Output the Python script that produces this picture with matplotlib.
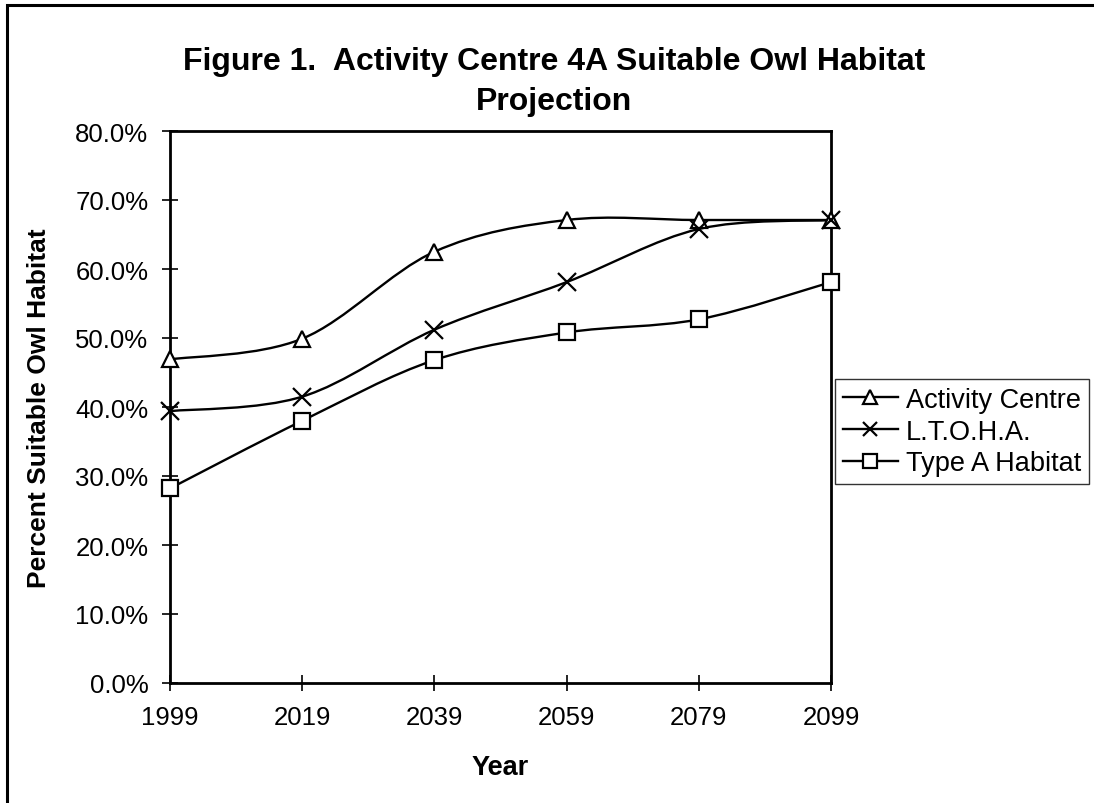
import matplotlib
matplotlib.use("Agg")
import matplotlib.pyplot as plt
from matplotlib.path import Path
from matplotlib.patches import PathPatch, Rectangle
from matplotlib.lines import Line2D
from matplotlib.ticker import FuncFormatter
import numpy as np

plt.rcParams['font.family'] = ['Liberation Sans', 'DejaVu Sans']

years = [1999, 2019, 2039, 2059, 2079, 2099]
activity_centre = [0.469, 0.499, 0.625, 0.671, 0.671, 0.671]
ltoha = [0.394, 0.415, 0.512, 0.581, 0.658, 0.671]
type_a = [0.282, 0.380, 0.468, 0.508, 0.527, 0.581]

series_names = ["Activity Centre", "L.T.O.H.A.", "Type A Habitat"]
y_ticks = [0.0, 0.1, 0.2, 0.3, 0.4, 0.5, 0.6, 0.7, 0.8]

W, H = 1094, 804
fig = plt.figure(figsize=(W / 100, H / 100), dpi=100)

# outer chart border
fig.patches.append(Rectangle((7 / W, -0.05), 1.2, 1 - 6 / H + 0.05, transform=fig.transFigure,
                             fill=False, edgecolor='black', linewidth=2.2, zorder=0))

L, R, T, B = 170, 831, 132, 684
ax = fig.add_axes([L / W, 1 - B / H, (R - L) / W, (B - T) / H])


def smooth_path(xs, ys):
    xs = np.asarray(xs, float)
    ys = np.asarray(ys, float)
    n = len(xs)
    verts = [(xs[0], ys[0])]
    codes = [Path.MOVETO]
    for i in range(n - 1):
        i0 = max(i - 1, 0)
        i3 = min(i + 2, n - 1)
        c1 = (xs[i] + (xs[i + 1] - xs[i0]) / 6, ys[i] + (ys[i + 1] - ys[i0]) / 6)
        c2 = (xs[i + 1] - (xs[i3] - xs[i]) / 6, ys[i + 1] - (ys[i3] - ys[i]) / 6)
        verts += [c1, c2, (xs[i + 1], ys[i + 1])]
        codes += [Path.CURVE4, Path.CURVE4, Path.CURVE4]
    return Path(verts, codes)


styles = [
    dict(marker='^', markersize=12, mew=1.6),
    dict(marker='x', markersize=13, mew=1.6),
    dict(marker='s', markersize=12, mew=1.6),
]
handles = []
for vals, name, st in zip([activity_centre, ltoha, type_a], series_names, styles):
    patch = PathPatch(smooth_path(years, vals), facecolor='none', edgecolor='black',
                      linewidth=1.7, zorder=3, clip_on=False)
    ax.add_patch(patch)
    ax.plot(years, vals, linestyle='none', color='black', markerfacecolor='white',
            zorder=4, clip_on=False, **st)
    handles.append(Line2D([], [], color='black', linewidth=1.7, markerfacecolor='white', **st))

ax.set_xlim(1999, 2099)
ax.set_ylim(0, 0.8)
ax.set_xticks(years)
ax.set_yticks(y_ticks)
ax.yaxis.set_major_formatter(FuncFormatter(lambda v, p: f"{v * 100:.1f}%"))
ax.tick_params(direction='inout', length=11, width=1.2, labelsize=18.5, color='black')
ax.tick_params(axis='y', pad=10)
ax.tick_params(axis='x', pad=10)
for sp in ax.spines.values():
    sp.set_linewidth(2)
    sp.set_color('black')

ax.set_xlabel("Year", fontsize=19.5, fontweight='bold', labelpad=18)
ax.yaxis.set_label_coords((39 - L) / (R - L), (B - 408) / (B - T))
ax.set_ylabel("Percent Suitable Owl Habitat", fontsize=19, fontweight='bold', va='center')

fig.text(554 / W, 1 - 82 / H, "Figure 1.  Activity Centre 4A Suitable Owl Habitat\nProjection",
         ha='center', va='center', fontsize=23, fontweight='bold', linespacing=1.42)

leg = fig.legend(handles, series_names, loc='upper left',
                 bbox_to_anchor=(835 / W, 1 - 380 / H), borderaxespad=0,
                 fontsize=19.5, frameon=True, fancybox=False, edgecolor='black',
                 handlelength=2.05, handletextpad=0.3, borderpad=0.28, labelspacing=0.22)
leg.get_frame().set_linewidth(1.0)
for h in leg.legend_handles:
    h.set_markersize(10)

fig.savefig("out.png", dpi=100)
